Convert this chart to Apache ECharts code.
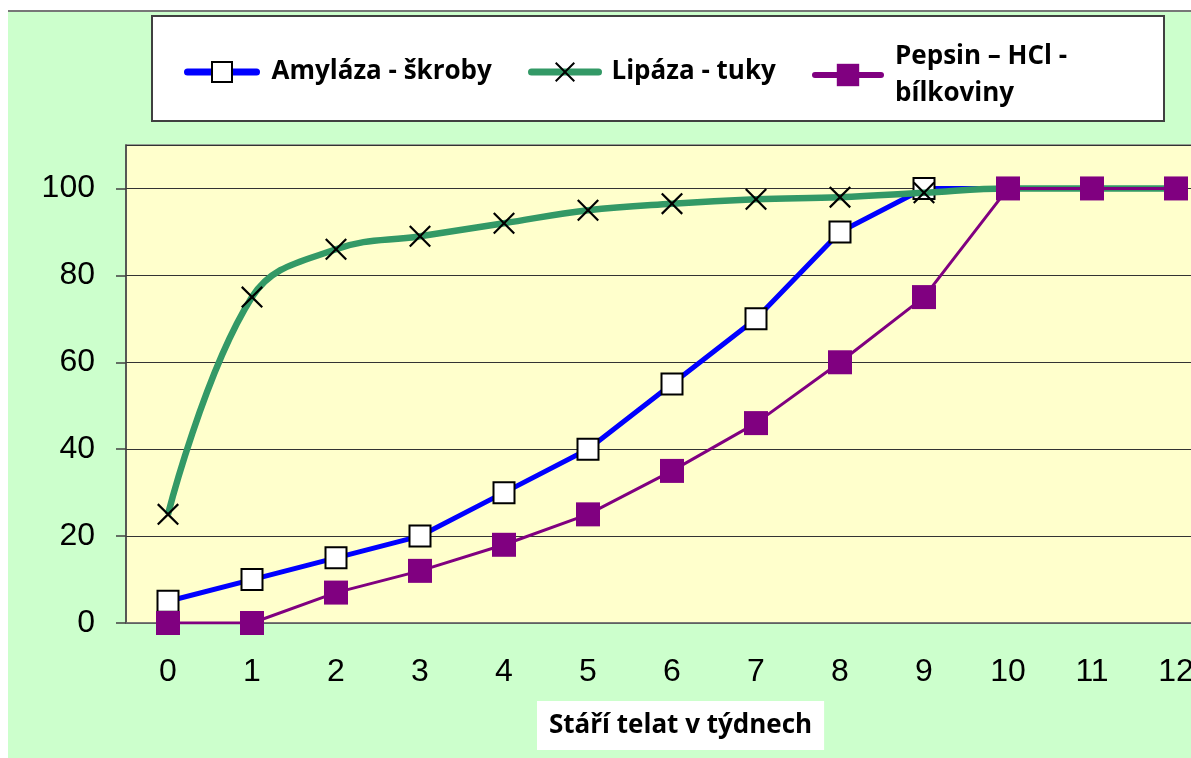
<!DOCTYPE html>
<html>
<head>
<meta charset="utf-8">
<script src="https://cdn.jsdelivr.net/npm/echarts@6/dist/echarts.min.js"></script>
<style>
html,body{margin:0;padding:0;background:#fff;overflow:hidden;}
#c{width:1218px;height:758px;}
</style>
</head>
<body>
<div id="c"></div>
<script>
const categories = ['0','1','2','3','4','5','6','7','8','9','10','11','12'];
const amylaza = [5, 10, 15, 20, 30, 40, 55, 70, 90, 100, 100, 100, 100];
const lipaza  = [25, 75, 86, 89, 92, 95, 96.5, 97.5, 98, 99, 100, 100, 100];
const pepsin  = [0, 0, 7, 12, 18, 25, 35, 46, 60, 75, 100, 100, 100];
const seriesNames = ['Amyláza - škroby', 'Lipáza - tuky', 'Pepsin – HCl -\nbílkoviny'];
const yTicks = [0, 20, 40, 60, 80, 100];
const xTitle = 'Stáří telat v týdnech';

const X_PATH = 'path://M0.7,0 L5,4.3 L9.3,0 L10,0.7 L5.7,5 L10,9.3 L9.3,10 L5,5.7 L0.7,10 L0,9.3 L4.3,5 L0,0.7 Z';
const FONT = '"Open Sans", "Liberation Sans", sans-serif';

const chart = echarts.init(document.getElementById('c'), null, {renderer: 'canvas'});

function lt(pad, lh) {
  return {fontFamily: FONT, fontWeight: 'bold', fontSize: 26, color: '#000', lineHeight: lh, padding: [0, 0, 0, pad]};
}

chart.setOption({
  animation: false,
  backgroundColor: '#ffffff',
  graphic: [
    {type: 'rect', z: -10, shape: {x: 8, y: 11, width: 1220, height: 760}, style: {fill: '#ccffcc'}},
    {type: 'line', z: -9, shape: {x1: 8, y1: 11, x2: 1218, y2: 11}, style: {stroke: '#777', lineWidth: 2}},
    {type: 'rect', z: -8, shape: {x: 152, y: 16, width: 1012, height: 105}, style: {fill: '#fff', stroke: '#404040', lineWidth: 2}}
  ],
  title: {
    text: xTitle,
    left: 537, top: 701,
    backgroundColor: '#fff',
    padding: [8, 12, 8, 12],
    textStyle: {fontFamily: FONT, fontWeight: 'bold', fontSize: 26, color: '#000', lineHeight: 33}
  },
  legend: [
    {data: [seriesNames[0]], left: 179, top: 54, itemWidth: 69, itemHeight: 25,
     lineStyle: {width: 7, cap: 'round'}, textStyle: lt(10, 25)},
    {data: [seriesNames[1]], left: 523, top: 54, itemWidth: 67, itemHeight: 25,
     lineStyle: {width: 7, cap: 'round'}, textStyle: lt(8, 25)},
    {data: [seriesNames[2]], left: 807, top: 33, itemWidth: 66, itemHeight: 28,
     lineStyle: {width: 6, cap: 'round'}, textStyle: lt(9, 37)}
  ],
  grid: {
    left: 126, top: 145, right: 0, bottom: 135,
    show: true, backgroundColor: '#ffffcc', borderColor: '#808080', borderWidth: 1.5
  },
  xAxis: {
    type: 'category',
    data: categories,
    boundaryGap: true,
    axisLine: {lineStyle: {color: '#707070', width: 1.5}},
    axisTick: {length: 12, lineStyle: {color: '#555', width: 1.5}},
    axisLabel: {margin: 33, fontFamily: '"Liberation Sans", Arial, sans-serif', fontSize: 32, color: '#000'},
    splitLine: {show: false}
  },
  yAxis: {
    type: 'value',
    min: 0, max: 110, interval: 20,
    axisLine: {show: true, lineStyle: {color: '#404040', width: 1.5}},
    axisTick: {show: true, length: 10, lineStyle: {color: '#404040', width: 1.5}},
    axisLabel: {
      margin: 31, fontFamily: '"Liberation Sans", Arial, sans-serif', fontSize: 32, color: '#000',
      showMaxLabel: false,
      formatter: v => (yTicks.indexOf(v) >= 0 ? String(v) : '')
    },
    splitLine: {show: true, lineStyle: {color: '#333', width: 1.2}}
  },
  series: [
    {
      name: seriesNames[0], type: 'line', data: amylaza,
      symbol: 'rect', symbolSize: 21,
      lineStyle: {color: '#0000ff', width: 5},
      itemStyle: {color: '#ffffff', borderColor: '#000', borderWidth: 2},
      z: 2
    },
    {
      name: seriesNames[1], type: 'line', data: lipaza, smooth: 0.4,
      symbol: X_PATH, symbolSize: 22,
      lineStyle: {color: '#339966', width: 6.5},
      itemStyle: {color: '#000'},
      z: 3
    },
    {
      name: seriesNames[2], type: 'line', data: pepsin,
      symbol: 'rect', symbolSize: 24,
      lineStyle: {color: '#800080', width: 3},
      itemStyle: {color: '#800080'},
      z: 4
    }
  ]
});
</script>
</body>
</html>
